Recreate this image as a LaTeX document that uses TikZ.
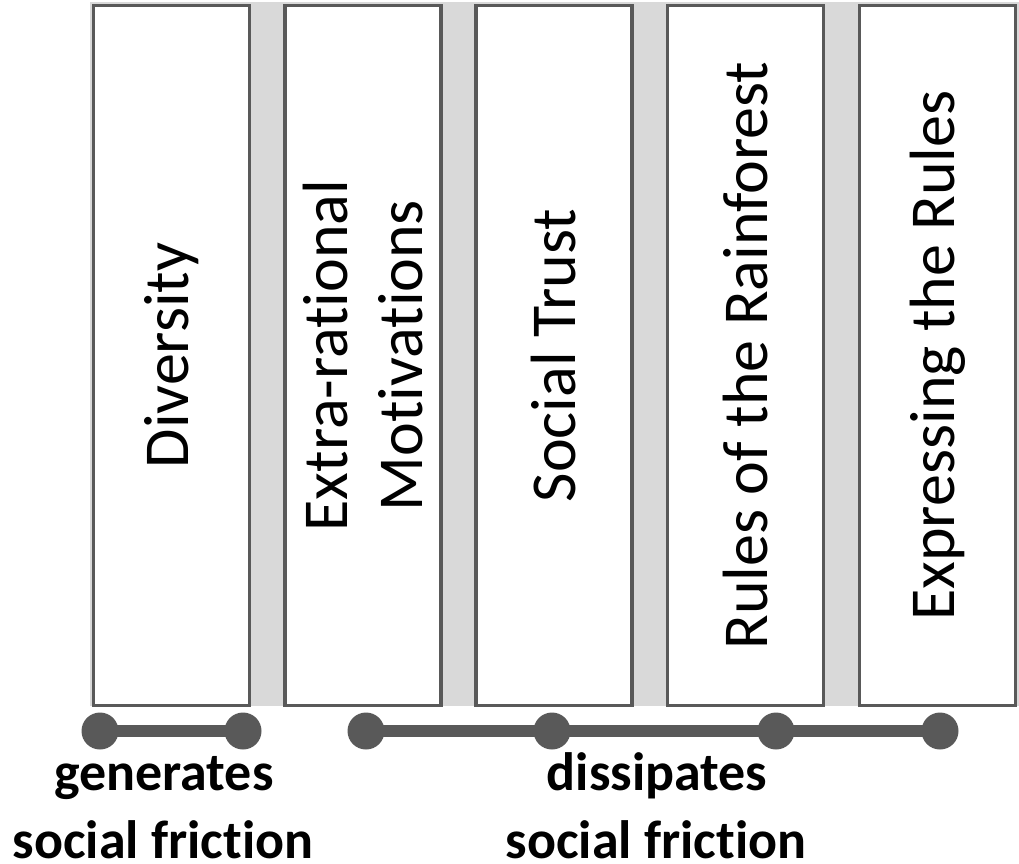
\documentclass[tikz,border=0pt]{standalone}
\usepackage{fontspec}
\newfontfamily\carl[RawFeature={-liga;-clig;-dlig;-calt}]{Carlito}
\definecolor{bandgray}{HTML}{D9D9D9}
\definecolor{edgegray}{HTML}{595959}
\tikzset{
  boxst/.style={draw=edgegray, line width=3.2pt, fill=white, rotate=90,
    minimum width=700pt, minimum height=156pt, inner sep=0pt, align=center,
    font=\carl\fontsize{64}{75}\selectfont},
  dotst/.style={circle, fill=edgegray, minimum size=37pt, inner sep=0pt},
  conn/.style={edgegray, line width=12pt},
  lab/.style={anchor=base, inner sep=0pt, text depth=0pt, font=\carl\bfseries\fontsize{54}{69}\selectfont}
}
\begin{document}
\begin{tikzpicture}[x=1pt,y=-1pt]
\useasboundingbox (0,0) rectangle (1019,863);
\fill[bandgray] (90,2) rectangle (1019,706);
\node[boxst] (b1) at (171.5,355.5) {Diversity};
\node[boxst] (b2) at (363,355.5) {Extra-rational\\Motivations};
\node[boxst] (b3) at (554,355.5) {Social Trust};
\node[boxst] (b4) at (745.5,355.5) {Rules of the Rainforest};
\node[boxst] (b5) at (937.5,355.5) {Expressing the Rules};
\node[dotst] (d1) at (100,731) {};
\node[dotst] (d2) at (243,731) {};
\node[dotst] (d3) at (366,731) {};
\node[dotst] (d4) at (552,731) {};
\node[dotst] (d5) at (776,731) {};
\node[dotst] (d6) at (940,731) {};
\draw[conn] (d1.center) -- (d2.center);
\draw[conn] (d3.center) -- (d4.center) -- (d5.center) -- (d6.center);
\node[lab] (g1) at (164,790) {generates};
\node[lab] (g2) at (163,858) {social friction};
\node[lab] (s1) at (657,790) {dissipates};
\node[lab] (s2) at (656,858) {social friction};
\end{tikzpicture}
\end{document}
